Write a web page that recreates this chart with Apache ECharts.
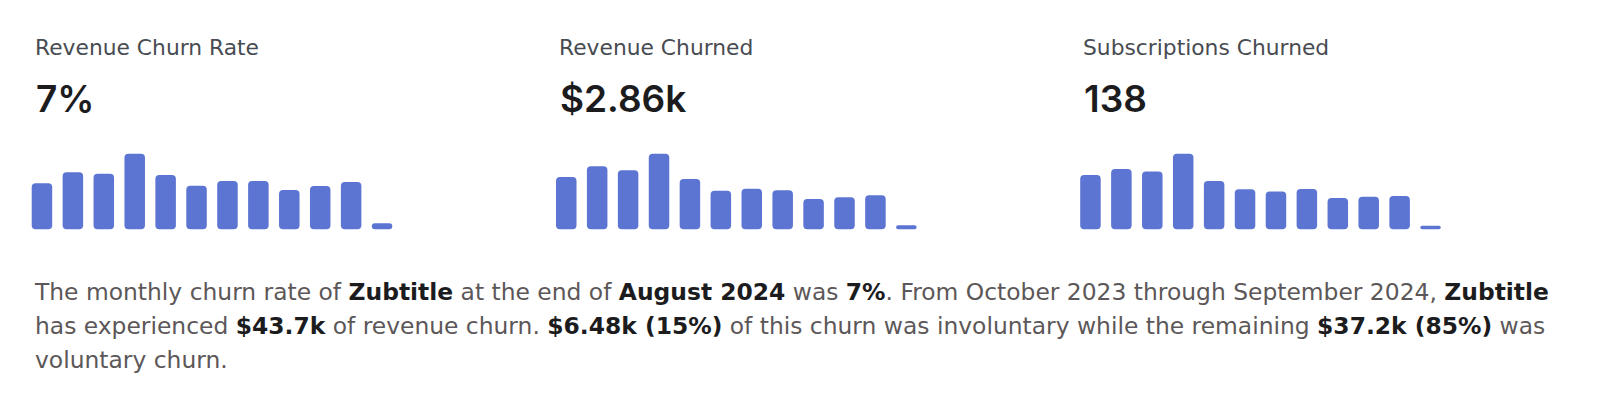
<!DOCTYPE html>
<html>
<head>
<meta charset="utf-8">
<style>
  html, body { margin: 0; padding: 0; background: #ffffff; }
  #chart { width: 1600px; height: 417px; }
</style>
<script src="https://cdn.jsdelivr.net/npm/echarts@6/dist/echarts.min.js"></script>
</head>
<body>
<div id="chart"></div>
<script>
// ---- data ----
const months = ['Oct 2023','Nov 2023','Dec 2023','Jan 2024','Feb 2024','Mar 2024','Apr 2024','May 2024','Jun 2024','Jul 2024','Aug 2024','Sep 2024'];
const churnRate = [6.8, 8.43, 8.23, 11.19, 8.04, 6.46, 7.15, 7.15, 5.82, 6.41, 7.0, 0.89];
const revenueChurned = [4.40, 5.30, 4.96, 6.36, 4.23, 3.25, 3.42, 3.28, 2.55, 2.69, 2.86, 0.34];
const subsChurned = [225, 250, 239, 313, 200, 166, 157, 167, 130, 135, 138, 15];
const metricLabels = ['Revenue Churn Rate', 'Revenue Churned', 'Subscriptions Churned'];
const metricValues = ['7%', '$2.86k', '138'];
const paragraphLines = [
  ['The monthly churn rate of ', '*Zubtitle', ' at the end of ', '*August 2024', ' was ', '*7%', '. From October 2023 through September 2024, ', '*Zubtitle'],
  ['has experienced ', '*$43.7k', ' of revenue churn. ', '*$6.48k (15%)', ' of this churn was involuntary while the remaining ', '*$37.2k (85%)', ' was'],
  ['voluntary churn.']
];

const TEXT_FONT = '"DejaVu Sans", "Noto Sans", sans-serif';
const VALUE_FONT = 'Inter, "Noto Sans", sans-serif';
const BAR = '#5c74d2';
const colLeft = [26.5, 550.8, 1075];
const textLeft = [35, 559, 1083];
const series = [churnRate, revenueChurned, subsChurned];

const chart = echarts.init(document.getElementById('chart'), null, { renderer: 'svg' });

const titles = [];
metricLabels.forEach((t, i) => {
  titles.push({
    text: t, left: textLeft[i], top: 36.5, padding: 0,
    textStyle: { fontFamily: TEXT_FONT, fontSize: 21.8, fontWeight: 400, color: '#484c52', lineHeight: 21.8 }
  });
  titles.push({
    text: metricValues[i], left: textLeft[i] + 1, top: 80.4, padding: 0,
    textStyle: { fontFamily: VALUE_FONT, fontSize: 37, fontWeight: 600, color: '#1c1c1e', lineHeight: 37 }
  });
});

const esc = s => s.replace(/[{}|]/g, '');
const paraText = paragraphLines.map(line => line.map(seg =>
  seg.startsWith('*') ? '{b|' + esc(seg.slice(1)) + '}' : '{n|' + esc(seg) + '}'
).join('')).join('\n');

titles.push({
  text: paraText, left: 35, top: 275.2, padding: 0,
  textStyle: {
    fontFamily: TEXT_FONT, fontSize: 23.4, lineHeight: 34, color: '#5c5758',
    rich: {
      n: { fontFamily: TEXT_FONT, fontSize: 23.4, lineHeight: 34, color: '#5c5758', fontWeight: 400 },
      b: { fontFamily: TEXT_FONT, fontSize: 23.4, lineHeight: 34, color: '#1c1c1e', fontWeight: 600 }
    }
  }
});

const grids = [], xAxes = [], yAxes = [], seriesList = [];
series.forEach((data, i) => {
  grids.push({ left: colLeft[i], width: 371, top: 153.7, height: 75.6 });
  xAxes.push({ type: 'category', gridIndex: i, data: months, show: false, boundaryGap: true });
  yAxes.push({ type: 'value', gridIndex: i, min: 0, max: 'dataMax', show: false });
  seriesList.push({
    type: 'bar', xAxisIndex: i, yAxisIndex: i, data: data, barWidth: 20.5,
    itemStyle: { color: BAR, borderRadius: 4 }, silent: true, animation: false
  });
});

chart.setOption({
  animation: false,
  title: titles,
  grid: grids,
  xAxis: xAxes,
  yAxis: yAxes,
  series: seriesList
});
</script>
</body>
</html>
